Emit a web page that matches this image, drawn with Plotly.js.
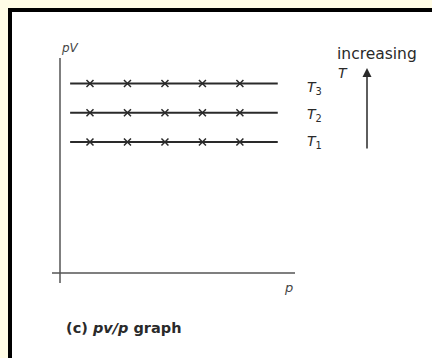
<!DOCTYPE html>
<html>
<head>
<meta charset="utf-8">
<script src="https://cdn.plot.ly/plotly-3.0.1.min.js"></script>
<style>
html,body{margin:0;padding:0;background:#fffce6;}
#chart{width:432px;height:358px;}
</style>
</head>
<body>
<div id="chart"></div>
<script>
// ---- data ----
const pressure = [1, 2, 3, 4, 5];
const lineExtent = [0.47, 6.01];
const pV_T1 = [6.15, 6.15, 6.15, 6.15, 6.15];
const pV_T2 = [7.52, 7.52, 7.52, 7.52, 7.52];
const pV_T3 = [8.9, 8.9, 8.9, 8.9, 8.9];
const seriesNames = ['T1', 'T2', 'T3'];
const tempSubs = ['1', '2', '3'];
const xLabel = 'p';
const yLabel = 'pV';
const captionText = '<b>(c) <i>pv/p</i> graph</b>';
const arrowText = ['increasing', 'T'];

const W = 432, H = 358;
const px = v => v / W;
const py = v => 1 - v / H;
const FONT = 'DejaVu Sans, sans-serif';
const ink = '#2a2a2a';

const levels = [pV_T1, pV_T2, pV_T3];
const traces = [];
levels.forEach((vals, i) => {
  traces.push({
    x: lineExtent, y: [vals[0], vals[vals.length - 1]],
    mode: 'lines', line: {color: ink, width: 2}, hoverinfo: 'skip', showlegend: false
  });
  traces.push({
    x: pressure, y: vals, name: seriesNames[i],
    mode: 'markers',
    marker: {symbol: 'x-thin', size: 7, line: {color: ink, width: 1.5}, color: ink},
    showlegend: false
  });
});

const annotations = [];
levels.forEach((vals, i) => {
  annotations.push({
    xref: 'paper', yref: 'y', x: px(305), y: vals[0], xanchor: 'left', yanchor: 'middle',
    yshift: i === 2 ? -5 : (i === 0 ? 0 : -2),
    text: '<i>T</i><sub>' + tempSubs[i] + '</sub>', showarrow: false,
    font: {family: FONT, size: 14, color: ink}
  });
});
annotations.push({xref:'paper', yref:'paper', x: px(59), y: py(48), xanchor:'left', yanchor:'middle',
  text: '<i>' + yLabel + '</i>', showarrow:false, font:{family:FONT, size:12, color:'#444'}});
annotations.push({xref:'paper', yref:'paper', x: px(282), y: py(287), xanchor:'left', yanchor:'middle',
  text: '<i>' + xLabel + '</i>', showarrow:false, font:{family:FONT, size:13, color:'#444'}});
annotations.push({xref:'paper', yref:'paper', x: px(64), y: py(328), xanchor:'left', yanchor:'middle',
  text: captionText, showarrow:false, font:{family:FONT, size:14.5, color:ink}});
annotations.push({xref:'paper', yref:'paper', x: px(335), y: py(54), xanchor:'left', yanchor:'middle',
  text: arrowText[0], showarrow:false, font:{family:FONT, size:15.5, color:ink}});
annotations.push({xref:'paper', yref:'paper', x: px(336), y: py(73), xanchor:'left', yanchor:'middle',
  text: '<i>' + arrowText[1] + '</i>', showarrow:false, font:{family:FONT, size:14, color:ink}});
annotations.push({xref:'paper', yref:'paper', x: px(367), y: py(68), ax: 0, ay: 82,
  text: '', showarrow: true, arrowhead: 2, arrowsize: 1.2, arrowwidth: 1.5, arrowcolor: ink});

const shapes = [
  {type:'rect', xref:'paper', yref:'paper', x0: px(8), x1: px(440), y0: py(8), y1: py(370),
   fillcolor:'#000', line:{width:0}, layer:'below'},
  {type:'rect', xref:'paper', yref:'paper', x0: px(12), x1: px(440), y0: py(12), y1: py(370),
   fillcolor:'#fff', line:{width:0}, layer:'below'},
  {type:'line', xref:'paper', yref:'paper', x0: px(60), x1: px(60), y0: py(58), y1: py(283),
   line:{color:'#555', width:1.5}},
  {type:'line', xref:'paper', yref:'paper', x0: px(52), x1: px(295), y0: py(273), y1: py(273),
   line:{color:'#555', width:1.5}}
];

const layout = {
  width: W, height: H,
  margin: {l:0, r:0, t:0, b:0},
  paper_bgcolor: '#fffce6',
  plot_bgcolor: 'rgba(0,0,0,0)',
  showlegend: false,
  xaxis: {domain: [px(60), px(295)], range: [0.2, 6.47], showgrid:false, zeroline:false,
          showticklabels:false, ticks:'', showline:false, fixedrange:true},
  yaxis: {domain: [py(273), py(60)], range: [0, 10], showgrid:false, zeroline:false,
          showticklabels:false, ticks:'', showline:false, fixedrange:true},
  shapes: shapes,
  annotations: annotations
};

Plotly.newPlot('chart', traces, layout, {displayModeBar:false, staticPlot:true});
</script>
</body>
</html>
